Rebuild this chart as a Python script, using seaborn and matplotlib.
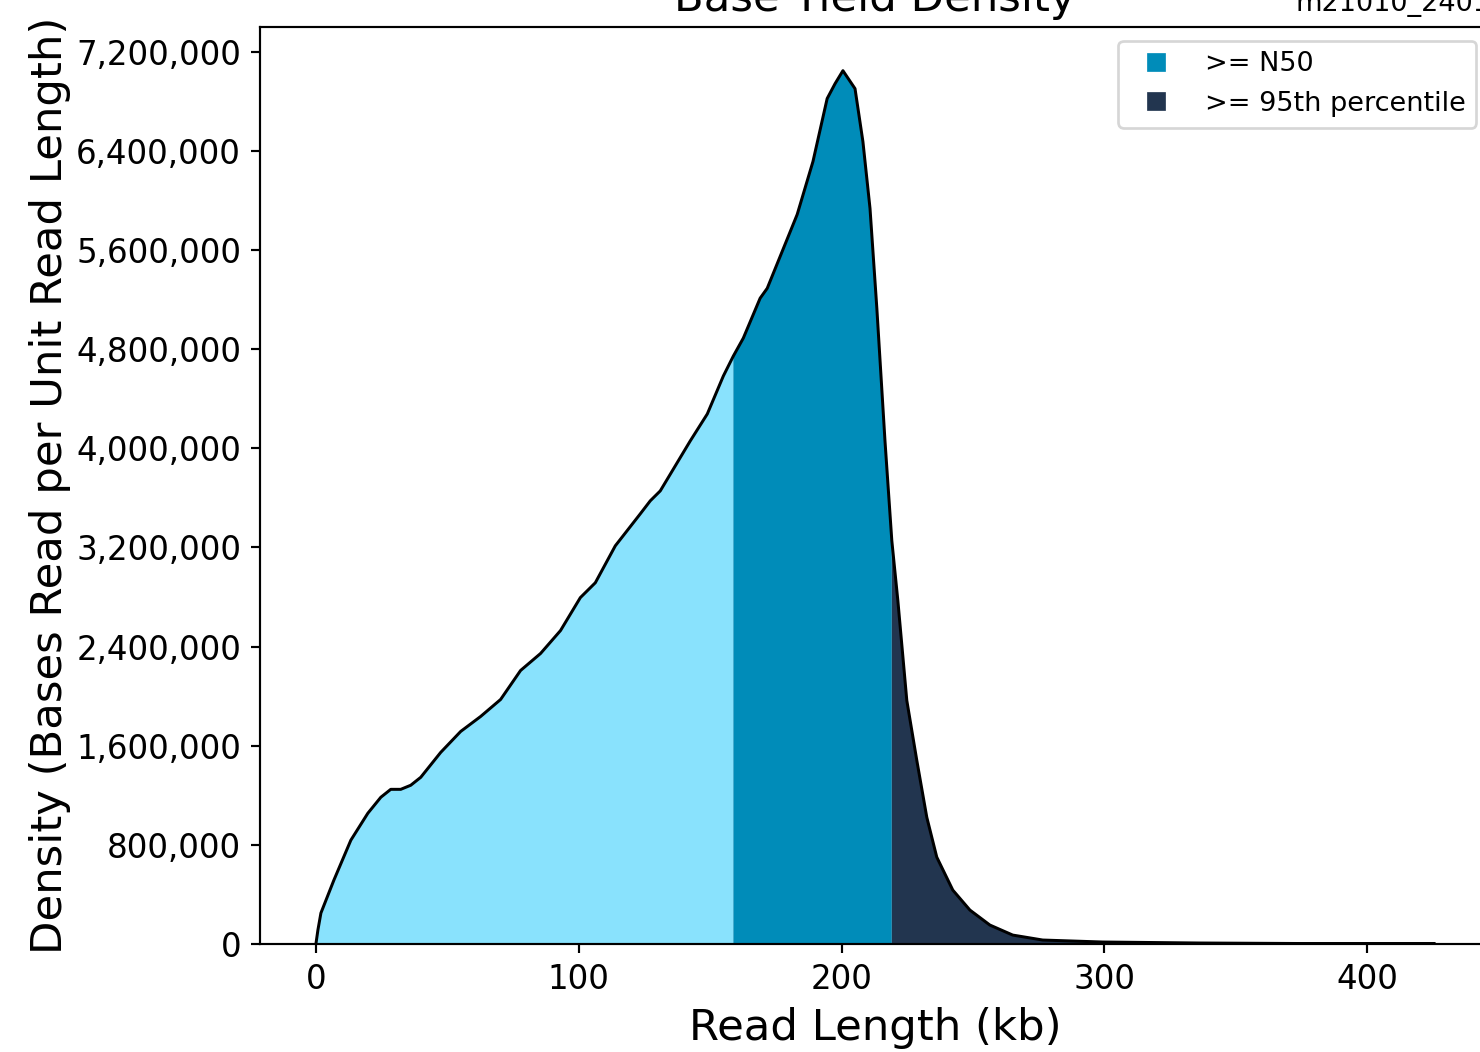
import matplotlib
matplotlib.use("Agg")
import matplotlib.pyplot as plt
from matplotlib.lines import Line2D
from matplotlib.ticker import StrMethodFormatter
import seaborn as sns
import numpy as np

# read length (kb) and base-yield density
read_len = [0, 0.76, 1.9, 6.84, 13.29, 19.75, 24.69, 28.48, 32.28, 36.08, 39.88,
            47.47, 55.07, 62.67, 70.26, 77.86, 85.45, 93.05, 100.6, 106.3, 113.9,
            123.4, 127.2, 131.0, 142.4, 148.9, 155.0, 158.8, 162.6, 169.0, 171.7,
            183.1, 189.1, 194.5, 197.5, 200.5, 205.1, 208.1, 210.8, 213.4, 216.5,
            219.1, 221.4, 224.8, 228.6, 232.4, 236.2, 242.3, 248.8, 256.4, 265.1,
            276.5, 299.3, 336.1, 374.1, 425.4]
density = [0, 112800, 249700, 515400, 837600, 1055000, 1184000, 1248000, 1248000,
           1281000, 1345000, 1546000, 1715000, 1836000, 1973000, 2207000, 2344000,
           2529000, 2795000, 2915000, 3213000, 3471000, 3576000, 3656000, 4059000,
           4277000, 4583000, 4744000, 4889000, 5211000, 5291000, 5887000, 6314000,
           6822000, 6942000, 7047000, 6902000, 6475000, 5936000, 5130000, 4059000,
           3254000, 2770000, 1965000, 1482000, 1023000, 701000, 435000, 274000,
           153000, 72000, 32000, 16000, 8000, 4000, 4000]

n50 = 158.8
p95 = 219.1

yticks = list(range(0, 7200001, 800000))

c_light = "#89e2fd"
c_n50 = "#008cb9"
c_p95 = "#22354f"

x = np.array(read_len)
y = np.array(density)

fig = plt.figure(figsize=(1480 / 195, 1052 / 195), dpi=195)
ax = fig.add_axes([260 / 1480, 1 - 944 / 1052, 1230 / 1480, 917 / 1052])

ax.fill_between(x, y, where=x <= n50, facecolor=c_light, linewidth=0)
ax.fill_between(x, y, where=(x >= n50) & (x <= p95), facecolor=c_n50, linewidth=0)
ax.fill_between(x, y, where=x >= p95, facecolor=c_p95, linewidth=0)
sns.lineplot(x=x, y=y, ax=ax, color="black", linewidth=1.1, sort=False)

ax.set_ylim(bottom=0)
ax.set_yticks(yticks)
ax.yaxis.set_major_formatter(StrMethodFormatter("{x:,.0f}"))
ax.tick_params(labelsize=12)

ax.set_xlabel("Read Length (kb)", fontsize=16)
ax.set_ylabel("Density (Bases Read per Unit Read Length)", fontsize=16, labelpad=2)
ax.set_title("Base Yield Density", fontsize=16)
ax.set_title("m21010_2401", loc="right", fontsize=10)

handles = [
    Line2D([], [], marker="s", linestyle="none", markersize=6, color=c_n50),
    Line2D([], [], marker="s", linestyle="none", markersize=6, color=c_p95),
]
ax.legend(handles, [">= N50", ">= 95th percentile"], loc="upper right", fontsize=10)

fig.savefig("out.png", dpi=195)
